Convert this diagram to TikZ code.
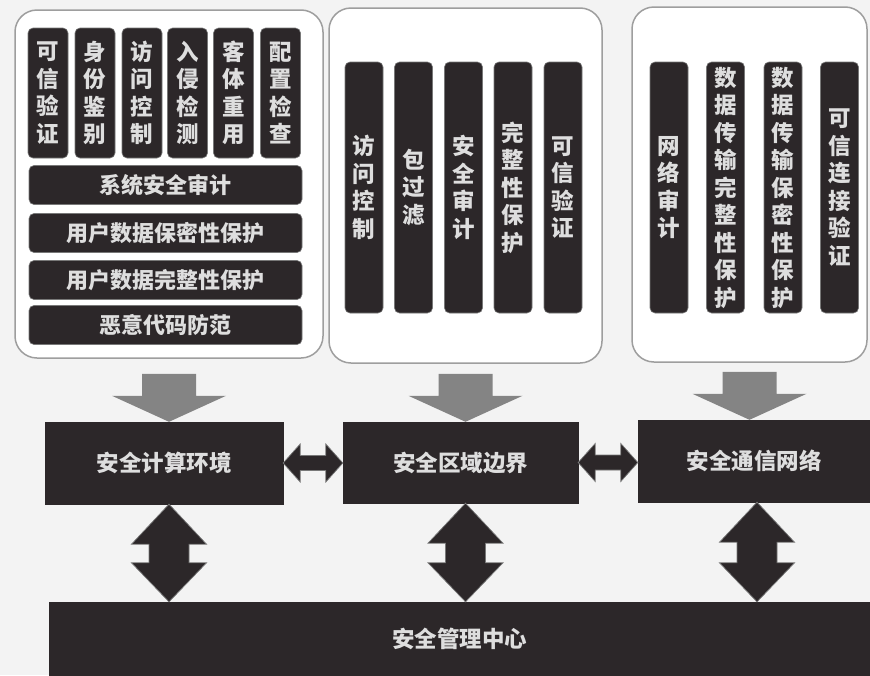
\documentclass[tikz,border=0pt]{standalone}
\usepackage{fontspec}
\newfontfamily\cjk{Noto Sans CJK SC}
\usetikzlibrary{calc}
\definecolor{bgc}{RGB}{243,243,243}
\definecolor{darkc}{RGB}{44,39,41}
\definecolor{txtc}{RGB}{222,222,222}
\definecolor{pborder}{RGB}{158,158,158}
\definecolor{garrowc}{RGB}{132,132,132}
\definecolor{edgec}{RGB}{120,120,120}
\newcommand{\grayArrowDraw}[1]{%
  \fill[garrowc] ($(#1)+(-27,-48)$) -- ($(#1)+(27,-48)$) -- ($(#1)+(27,-26)$) -- ($(#1)+(57,-26)$) -- (#1) -- ($(#1)+(-57,-26)$) -- ($(#1)+(-27,-26)$) -- cycle;}
\newcommand{\vDoubleDraw}[2]{%
  \draw[darrow] (#1) -- ($(#1)+(37.5,40)$) -- ($(#1)+(20,40)$) -- ($(#2)+(20,-39)$) -- ($(#2)+(37.5,-39)$) -- (#2) -- ($(#2)+(-37.5,-39)$) -- ($(#2)+(-20,-39)$) -- ($(#1)+(-20,40)$) -- ($(#1)+(-37.5,40)$) -- cycle;}
\newcommand{\hDoubleDraw}[2]{%
  \draw[darrow] (#1) -- ($(#1)+(17,-19)$) -- ($(#1)+(17,-7.5)$) -- ($(#2)+(-17,-7.5)$) -- ($(#2)+(-17,-19)$) -- (#2) -- ($(#2)+(-17,19)$) -- ($(#2)+(-17,7.5)$) -- ($(#1)+(17,7.5)$) -- ($(#1)+(17,19)$) -- cycle;}
\begin{document}
\begin{tikzpicture}[x=1pt,y=-1pt,
  panel/.style={draw=pborder, line width=1.5pt, fill=white, rounded corners=22pt, inner sep=0pt},
  vcol/.style={draw=edgec, line width=0.6pt, fill=darkc, rounded corners=5pt, text=txtc,
    font=\cjk\bfseries\fontsize{22.5}{27.5}\selectfont, align=center, inner sep=0pt},
  hbar/.style={draw=edgec, line width=0.6pt, fill=darkc, rounded corners=5pt, text=txtc,
    font=\cjk\bfseries\fontsize{22}{25}\selectfont, inner sep=0pt, minimum width=273pt, minimum height=39pt},
  mainbox/.style={fill=darkc, draw=darkc, text=txtc, font=\cjk\bfseries\fontsize{22.5}{25}\selectfont, inner sep=0pt},
  darrow/.style={fill=darkc, draw=edgec, line width=0.7pt}]
\fill[bgc] (0,0) rectangle (870,675);
\useasboundingbox (0,0) rectangle (870,675);
% panels
\node[panel, minimum width=308pt, minimum height=348pt] (p1) at (169,184) {};
\node[panel, minimum width=273pt, minimum height=355pt] (p2) at (465.5,185.5) {};
\node[panel, minimum width=235pt, minimum height=355pt] (p3) at (749.5,184.5) {};
% panel 1 columns
\begin{scope}[every node/.style={vcol, minimum width=40pt, minimum height=130pt}]
\node (a1) at (48,93) {可\\信\\验\\证};
\node (a2) at (95,93) {身\\份\\鉴\\别};
\node (a3) at (142,93) {访\\问\\控\\制};
\node (a4) at (187.5,93) {入\\侵\\检\\测};
\node (a5) at (233.5,93) {客\\体\\重\\用};
\node (a6) at (280.5,93) {配\\置\\检\\查};
\end{scope}
\node[hbar] (r1) at (165.5,185) {系统安全审计};
\node[hbar] (r2) at (165.5,233) {用户数据保密性保护};
\node[hbar] (r3) at (165.5,280) {用户数据完整性保护};
\node[hbar] (r4) at (165.5,325) {恶意代码防范};
% panel 2 columns
\begin{scope}[every node/.style={vcol, minimum width=38pt, minimum height=251pt}]
\node (m1) at (364,187.5) {访\\问\\控\\制};
\node (m2) at (413.5,187.5) {包\\过\\滤};
\node (m3) at (463.5,187.5) {安\\全\\审\\计};
\node (m4) at (513,187.5) {完\\整\\性\\保\\护};
\node (m5) at (563,187.5) {可\\信\\验\\证};
\end{scope}
% panel 3 columns
\begin{scope}[every node/.style={vcol, minimum width=38pt, minimum height=251pt}]
\node (n1) at (669,187.5) {网\\络\\审\\计};
\node (n2) at (725.5,187.5) {数\\据\\传\\输\\完\\整\\性\\保\\护};
\node (n3) at (783,187.5) {数\\据\\传\\输\\保\\密\\性\\保\\护};
\node (n4) at (839.5,187.5) {可\\信\\连\\接\\验\\证};
\end{scope}
% main boxes
\node[mainbox, minimum width=238pt, minimum height=82pt] (b1) at (164,463) {安全计算环境};
\node[mainbox, minimum width=235pt, minimum height=81pt] (b2) at (460.5,462.5) {安全区域边界};
\node[mainbox, minimum width=232pt, minimum height=82pt] (b3) at (754,461) {安全通信网络};
\node[mainbox, minimum width=821pt, minimum height=73pt] (bar) at (459.5,638.5) {安全管理中心};
% gray arrows
\coordinate (g1) at (p1.south |- b1.north);
\coordinate (g2) at (p2.south |- b2.north);
\coordinate (g3) at (p3.south |- b3.north);
\grayArrowDraw{g1}
\grayArrowDraw{g2}
\grayArrowDraw{g3}
% horizontal double arrows
\coordinate (h1l) at (b1.east);
\coordinate (h1r) at (b2.west |- b1.east);
\coordinate (h2l) at (b2.east);
\coordinate (h2r) at (b3.west |- b2.east);
\hDoubleDraw{h1l}{h1r}
\hDoubleDraw{h2l}{h2r}
% vertical double arrows
\coordinate (v1t) at (p1.south |- b1.south);
\coordinate (v1b) at (p1.south |- bar.north);
\coordinate (v2t) at (p2.south |- b2.south);
\coordinate (v2b) at (p2.south |- bar.north);
\coordinate (v3t) at ($(b3.south)+(3,0)$);
\coordinate (v3b) at ($(b3.south |- bar.north)+(3,0)$);
\vDoubleDraw{v1t}{v1b}
\vDoubleDraw{v2t}{v2b}
\vDoubleDraw{v3t}{v3b}
\end{tikzpicture}
\end{document}
